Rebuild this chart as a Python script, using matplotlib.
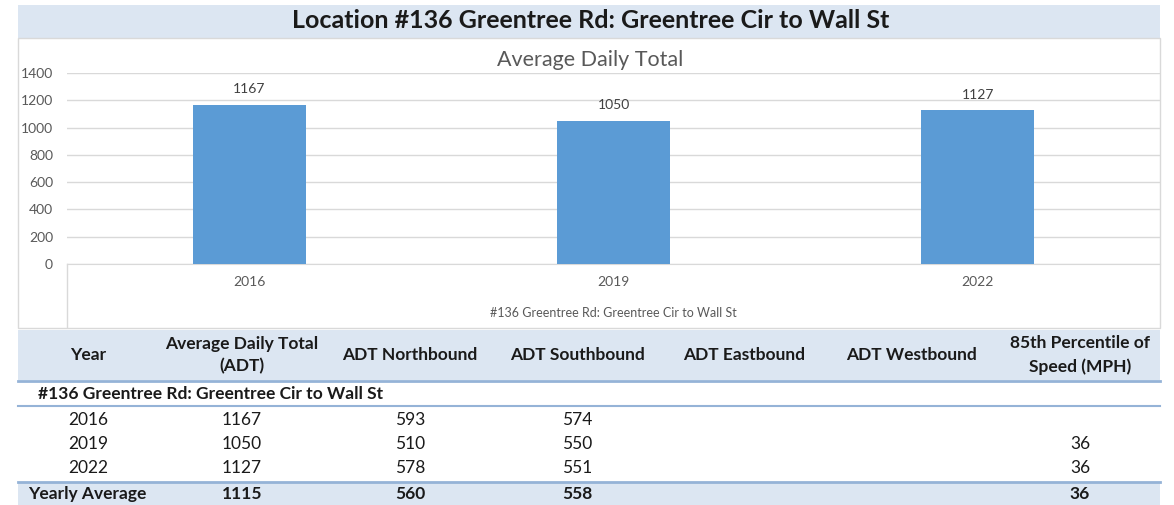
import matplotlib
matplotlib.use("Agg")
import matplotlib.pyplot as plt
from matplotlib.patches import Rectangle

plt.rcParams['font.family'] = ['Lato', 'DejaVu Sans']

# chart data
years = ["2016", "2019", "2022"]
adt = [1167, 1050, 1127]

# table data
location = "#136 Greentree Rd: Greentree Cir to Wall St"
headers = ["Year", "Average Daily Total\n(ADT)", "ADT Northbound", "ADT Southbound",
           "ADT Eastbound", "ADT Westbound", "85th Percentile of\nSpeed (MPH)"]
northbound = ["593", "510", "578"]
southbound = ["574", "550", "551"]
eastbound = ["", "", ""]
westbound = ["", "", ""]
speed85 = ["", "36", "36"]
yearly_avg = ["Yearly Average", "1115", "560", "558", "", "", "36"]

W, H = 1174, 505
fig = plt.figure(figsize=(W / 100, H / 100), dpi=100)
fig.patch.set_facecolor("white")

# overlay in pixel coordinates for the frame and the table
bg = fig.add_axes([0, 0, 1, 1])
bg.set_xlim(0, W)
bg.set_ylim(H, 0)
bg.axis("off")

band = "#dce6f2"
line_blue = "#95b3d7"
txt = "#1a1a1a"

# title band
bg.add_patch(Rectangle((18, 5), 1142, 33, facecolor=band, edgecolor="none"))
bg.text(591, 21, "Location #136 Greentree Rd: Greentree Cir to Wall St", ha="center",
        va="center", fontsize=18, fontweight="bold", color=txt)

# chart frame
bg.add_patch(Rectangle((18, 38), 1142, 290, facecolor="white", edgecolor="#d9d9d9", lw=1))
bg.plot([67, 67], [264, 327], color="#d9d9d9", lw=1)
bg.text(590, 60, "Average Daily Total", ha="center", va="center", fontsize=15.5, color="#595959")
bg.text(613, 313, location, ha="center", va="center", fontsize=9, color="#595959")

# table
cols = [88, 242, 410, 577, 744, 911, 1080]
bg.add_patch(Rectangle((18, 330), 1142, 50, facecolor=band, edgecolor="none"))
bg.plot([18, 1160], [381, 381], color=line_blue, lw=2)
for x, h in zip(cols, headers):
    bg.text(x, 355, h, ha="center", va="center", fontsize=12.5, fontweight="bold",
            color=txt, linespacing=1.5)
bg.text(38, 394, location, ha="left", va="center", fontsize=12.5, fontweight="bold", color=txt)
bg.plot([18, 1160], [406, 406], color=line_blue, lw=1.5)

rows = list(zip(years, [str(v) for v in adt], northbound, southbound, eastbound, westbound, speed85))
for i, row in enumerate(rows):
    y = 420 + i * 24
    for x, v in zip(cols, row):
        bg.text(x, y, v, ha="center", va="center", fontsize=12.5, color=txt)

bg.add_patch(Rectangle((18, 482), 1142, 23, facecolor=band, edgecolor="none"))
bg.plot([18, 1160], [482, 482], color=line_blue, lw=2)
for j, (x, v) in enumerate(zip(cols, yearly_avg)):
    if j == 0:
        bg.text(28, 494, v, ha="left", va="center", fontsize=12.5, fontweight="bold", color=txt)
    else:
        bg.text(x, 494, v, ha="center", va="center", fontsize=12.5, fontweight="bold", color=txt)

# bar chart
ax = fig.add_axes([67 / W, (H - 264) / H, (1160 - 67) / W, (264 - 73) / H])
ax.set_facecolor("none")
bars = ax.bar(range(len(years)), adt, width=0.31, color="#5b9bd5", zorder=3)
ax.set_xlim(-0.5, len(years) - 0.5)
ax.set_ylim(0, 1400)
ax.set_yticks(range(0, 1401, 200))
ax.set_xticks(range(len(years)))
ax.set_xticklabels(years)
ax.tick_params(axis="y", length=0, pad=10, labelsize=10, labelcolor="#595959")
ax.tick_params(axis="x", length=0, pad=9, labelsize=10, labelcolor="#595959")
ax.grid(axis="y", color="#d9d9d9", lw=1, zorder=0)
for s in ["top", "right", "left"]:
    ax.spines[s].set_visible(False)
ax.spines["bottom"].set_color("#d9d9d9")
for b, v in zip(bars, adt):
    ax.text(b.get_x() + b.get_width() / 2, v + 70, str(v), ha="center", va="bottom",
            fontsize=10, color="#404040")

fig.savefig("out.png", dpi=100)
